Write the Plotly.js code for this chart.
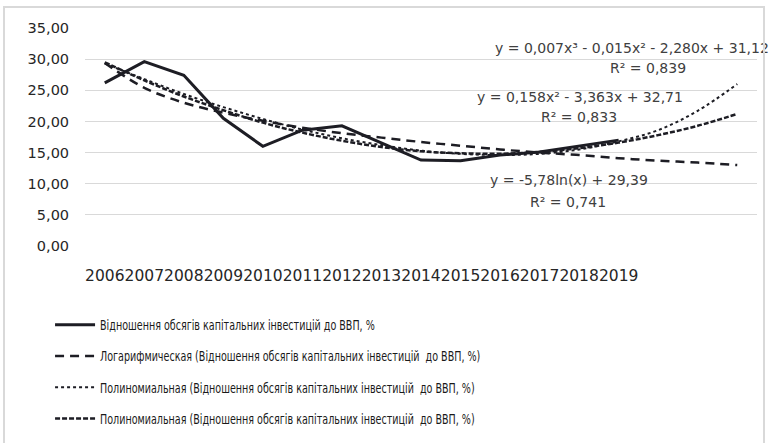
<!DOCTYPE html>
<html>
<head>
<meta charset="utf-8">
<script src="https://cdn.plot.ly/plotly-3.0.1.min.js"></script>
<style>
  html, body { margin: 0; padding: 0; background: #fff; }
  #wrap { position: relative; width: 771px; height: 443px; overflow: hidden; }
  #chart { width: 771px; height: 443px; }
  #frame { position: absolute; left: 3px; top: 6px; width: 762px; height: 445px;
           border: 2px solid #d9d9d9; pointer-events: none; box-sizing: border-box; }
  #chart .legendtext { transform-box: fill-box; transform-origin: left center; transform: scaleX(0.76); }
</style>
</head>
<body>
<div id="wrap">
  <div id="chart"></div>
  <div id="frame"></div>
</div>
<script>
// ---- data ----
const years = ['2006','2007','2008','2009','2010','2011','2012','2013','2014','2015','2016','2017','2018','2019'];
const periods = [1,2,3,4,5,6,7,8,9,10,11,12,13,14];
const ratio = [26.2, 29.6, 27.4, 20.5, 16.0, 18.6, 19.3, 16.6, 13.8, 13.7, 14.6, 15.1, 16.0, 17.0];

const trendPeriods = [1,2,3,4,5,6,7,8,9,10,11,12,13,14,15,16,17];
const logTrend   = [29.4, 25.4, 23.0, 21.4, 20.1, 19.0, 18.1, 17.4, 16.7, 16.1, 15.5, 15.0, 14.6, 14.1, 13.7, 13.4, 13.0];
const cubicTrend = [29.3, 26.8, 24.4, 22.3, 20.4, 18.7, 17.3, 16.2, 15.3, 14.8, 14.6, 14.8, 15.5, 16.8, 18.6, 21.7, 26.0];
const quadTrend  = [29.5, 26.6, 24.0, 21.8, 19.8, 18.2, 16.9, 15.9, 15.2, 14.9, 14.8, 15.1, 15.7, 16.6, 17.8, 19.3, 21.2];

const names = [
  'Відношення обсягів капітальних інвестицій до ВВП, %',
  'Логарифмическая (Відношення обсягів капітальних інвестицій  до ВВП, %)',
  'Полиномиальная (Відношення обсягів капітальних інвестицій  до ВВП, %)',
  'Полиномиальная (Відношення обсягів капітальних інвестицій  до ВВП, %)'
];
const eqCubic = 'y = 0,007x³ - 0,015x² - 2,280x + 31,12';
const r2Cubic = 'R² = 0,839';
const eqQuad = 'y = 0,158x² - 3,363x + 32,71';
const r2Quad = 'R² = 0,833';
const eqLog = 'y = -5,78ln(x) + 29,39';
const r2Log = 'R² = 0,741';

const ink = '#1d1d24';

const traces = [
  { x: periods, y: ratio, name: names[0], mode: 'lines', legendgroup: 'a',
    line: { color: ink, width: 3 } },
  { x: trendPeriods, y: logTrend, name: names[1], mode: 'lines', legendgroup: 'b',
    line: { color: ink, width: 2.5, dash: '9px,6px', shape: 'spline' } },
  { x: trendPeriods, y: cubicTrend, name: names[2], mode: 'lines', legendgroup: 'c',
    line: { color: ink, width: 2, dash: 'dot', shape: 'spline' } },
  { x: trendPeriods, y: quadTrend, name: names[3], mode: 'lines', legendgroup: 'd',
    line: { color: ink, width: 2.5, dash: '5px,2px', shape: 'spline' } }
];

const annFont = { family: 'DejaVu Sans', size: 14, color: '#404040' };
function ann(text, x, y) {
  return { text: text, x: x, y: y, xref: 'x', yref: 'y', showarrow: false,
           xanchor: 'center', yanchor: 'middle', font: annFont };
}

const layout = {
  width: 771, height: 443,
  margin: { l: 85, r: 14, t: 28, b: 197, autoexpand: false },
  paper_bgcolor: '#fff', plot_bgcolor: '#fff',
  separators: ', ',
  showlegend: true,
  xaxis: {
    range: [0.5, 17.5], tickvals: periods, ticktext: years, tickangle: 0,
    showgrid: false, zeroline: false, showline: false,
    ticks: 'outside', ticklen: 15, tickcolor: 'rgba(0,0,0,0)',
    tickfont: { family: 'DejaVu Sans', size: 15.5, color: '#262626' }
  },
  yaxis: {
    range: [0, 35], dtick: 5, tickformat: '.2f',
    showgrid: true, gridcolor: '#d9d9d9', gridwidth: 1,
    zeroline: false, showline: false,
    ticks: 'outside', ticklen: 12, tickcolor: 'rgba(0,0,0,0)',
    tickfont: { family: 'DejaVu Sans', size: 14.5, color: '#262626' }
  },
  legend: {
    orientation: 'v', x: -0.052, xanchor: 'left', y: -0.29, yanchor: 'top',
    bgcolor: 'rgba(0,0,0,0)', borderwidth: 0, tracegroupgap: 10, itemwidth: 40,
    font: { family: 'DejaVu Sans Condensed, sans-serif', size: 14, color: '#1a1a1a' }
  },
  annotations: [
    ann(eqCubic, 14.34, 31.8), ann(r2Cubic, 14.74, 28.6),
    ann(eqQuad, 13.02, 23.9), ann(r2Quad, 13.0, 20.7),
    ann(eqLog, 12.74, 10.6), ann(r2Log, 12.72, 7.06)
  ]
};

Plotly.newPlot('chart', traces, layout, { displayModeBar: false, staticPlot: true });
</script>
</body>
</html>
